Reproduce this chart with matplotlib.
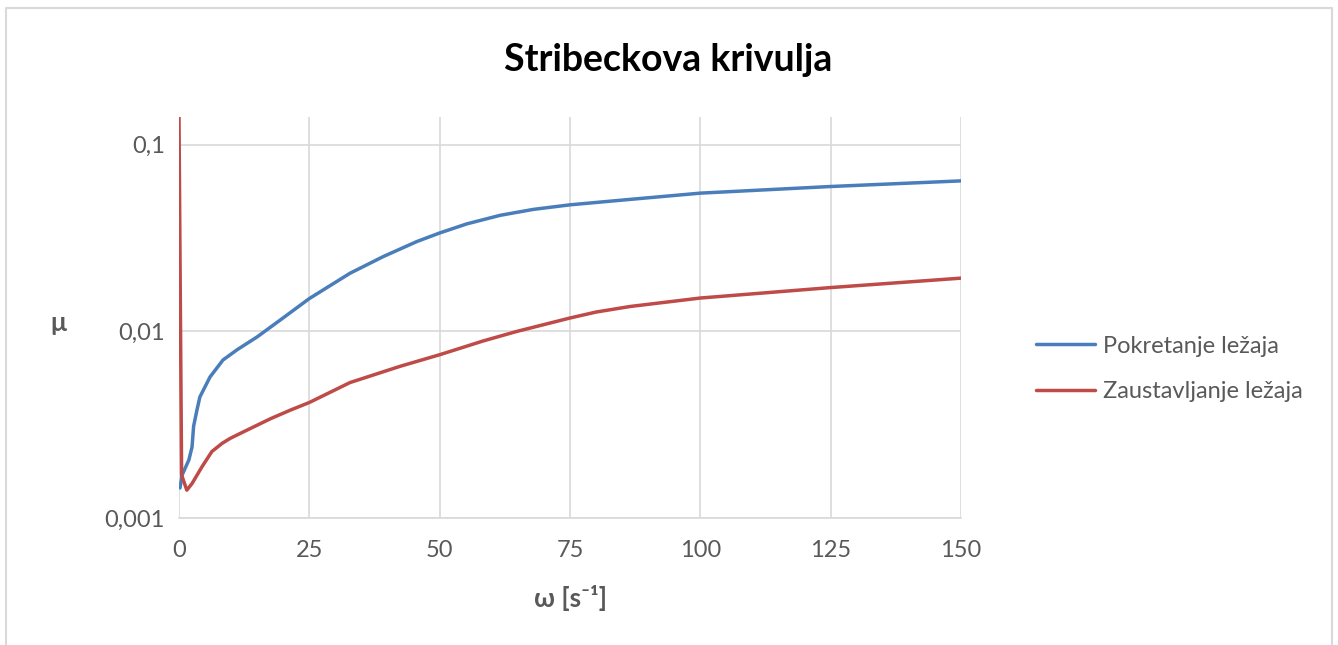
import matplotlib
matplotlib.use('Agg')
import matplotlib.pyplot as plt
from matplotlib.lines import Line2D

# omega [1/s] and friction coefficient
pokretanje_x = [0.2, 0.6, 1.9, 2.5, 2.8, 3.45, 4.0, 5.95, 8.44, 11.1, 15, 19.4, 25,
                32.8, 39.2, 45.6, 50, 55.2, 61.6, 68, 75, 86.5, 100, 125, 150]
pokretanje_y = [0.00145, 0.0017, 0.00205, 0.0024, 0.0031, 0.0038, 0.00445, 0.0057,
                0.00703, 0.00796, 0.00935, 0.0115, 0.0150, 0.0205, 0.0252, 0.0303,
                0.0337, 0.0377, 0.0419, 0.0451, 0.0477, 0.0510, 0.0551, 0.0598, 0.0641]

zaustavljanje_x = [0, 0.5, 1.5, 2.5, 4.4, 6.3, 8.25, 9.8, 12.3, 17.5, 21.3, 25,
                   32.8, 42.4, 50, 58.4, 64.8, 75, 80, 86.5, 100, 125, 150]
zaustavljanje_y = [0.14, 0.0017, 0.00141, 0.00153, 0.00188, 0.00227, 0.00251,
                   0.00267, 0.00289, 0.00340, 0.00378, 0.00416, 0.00532, 0.0065,
                   0.0075, 0.0089, 0.0100, 0.0118, 0.0127, 0.0136, 0.0151, 0.01718, 0.0193]

x_ticks = [0, 25, 50, 75, 100, 125, 150]
y_ticks = [0.001, 0.01, 0.1]
y_tick_labels = ['0,001', '0,01', '0,1']

plt.rcParams['font.family'] = ['Lato', 'DejaVu Sans']
gray = '#595959'
grid_col = '#d9d9d9'

fig = plt.figure(figsize=(13.38, 6.45), dpi=100)
ax = fig.add_axes([179 / 1338, 1 - 518 / 645, 782 / 1338, 401 / 645])

ax.plot(pokretanje_x, pokretanje_y, color='#4a7ebb', lw=2.5, label='Pokretanje ležaja',
        solid_capstyle='round', solid_joinstyle='round')
ax.plot(zaustavljanje_x, zaustavljanje_y, color='#be4b48', lw=2.5, label='Zaustavljanje ležaja',
        solid_capstyle='round', solid_joinstyle='round')

ax.set_yscale('log')
ax.set_xlim(0, 150)
ax.set_ylim(0.001, 0.141)
ax.set_xticks(x_ticks)
ax.set_xticklabels([str(t) for t in x_ticks])
ax.set_yticks(y_ticks)
ax.set_yticklabels(y_tick_labels)
ax.yaxis.set_minor_locator(plt.NullLocator())
ax.tick_params(length=0, colors=gray, labelsize=17)
ax.tick_params(axis='x', pad=16)
ax.tick_params(axis='y', pad=10)

ax.grid(True, color=grid_col, lw=1.2)
ax.set_axisbelow(True)
for s in ['top', 'right', 'left']:
    ax.spines[s].set_visible(False)
ax.spines['bottom'].set_color(grid_col)
ax.spines['bottom'].set_linewidth(1.2)

fig.text(668 / 1338, 1 - 60 / 645, 'Stribeckova krivulja', ha='center', va='center',
         fontsize=27, fontweight='bold', color='black')
fig.text(571 / 1338, 1 - 598 / 645, 'ω [s⁻¹]', ha='center', va='center',
         fontsize=19, fontweight='bold', color=gray)
fig.text(58 / 1338, 1 - 323 / 645, 'μ', ha='center', va='center',
         fontsize=19, fontweight='bold', color=gray)

ax.legend(loc='center left', bbox_to_anchor=(1024 / 1338, 1 - 369 / 645),
          bbox_transform=fig.transFigure, frameon=False, fontsize=17,
          handlelength=2.5, handletextpad=0.35, labelspacing=1.05,
          borderpad=0, labelcolor=gray)

# light frame around the chart (bottom edge is cut off in the original)
fig.add_artist(Line2D([6 / 1338, 6 / 1338, 1332 / 1338, 1332 / 1338],
                      [0, 1 - 8 / 645, 1 - 8 / 645, 0],
                      transform=fig.transFigure, color=grid_col, lw=1.5))

fig.savefig('out.png', dpi=100)
